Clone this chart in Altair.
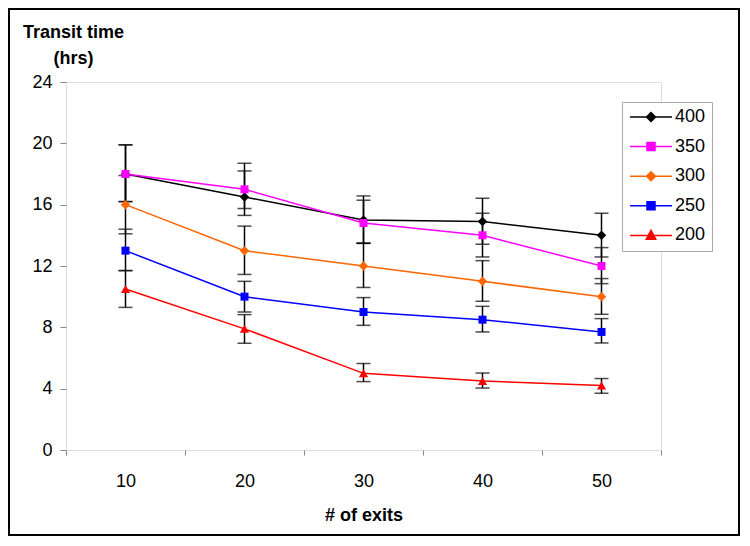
import altair as alt
import pandas as pd

exits = [10, 20, 30, 40, 50]
series = ["400", "350", "300", "250", "200"]
colors = ["#000000", "#FF00FF", "#FF6600", "#0000FF", "#FF0000"]

values = {
    "400": [18.0, 16.5, 15.0, 14.9, 14.0],
    "350": [18.0, 17.0, 14.8, 14.0, 12.0],
    "300": [16.0, 13.0, 12.0, 11.0, 10.0],
    "250": [13.0, 10.0, 9.0, 8.5, 7.7],
    "200": [10.5, 7.9, 5.0, 4.5, 4.2],
}
err_low = {
    "400": [16.2, 15.3, 13.48, 13.42, 12.59],
    "350": [16.2, 15.75, 13.48, 12.59, 10.85],
    "300": [14.1, 11.45, 10.6, 9.7, 8.85],
    "250": [11.7, 9.0, 8.13, 7.7, 6.98],
    "200": [9.3, 6.96, 4.46, 4.04, 3.7],
}
err_high = {
    "400": [19.9, 18.7, 16.57, 16.42, 15.44],
    "350": [19.9, 18.2, 16.29, 15.44, 13.2],
    "300": [17.9, 14.6, 13.48, 12.35, 11.18],
    "250": [14.4, 11.0, 9.94, 9.37, 8.57],
    "200": [11.7, 8.83, 5.64, 5.02, 4.66],
}

rows = []
for s in series:
    for i, e in enumerate(exits):
        rows.append({"series": s, "exits": e, "value": values[s][i],
                     "lo": err_low[s][i], "hi": err_high[s][i]})
df = pd.DataFrame(rows)

FONT = "Liberation Sans"

# legend symbols: a line with the series marker on it
P_DIAMOND = "M-4.2,0H4.2M0,-0.9L0.9,0L0,0.9L-0.9,0Z"
P_SQUARE = "M-4.2,0H4.2M-0.8,-0.8H0.8V0.8H-0.8Z"
P_TRI = "M-4.2,0H4.2M0,-1L0.95,0.75H-0.95Z"
legend_shapes = [P_DIAMOND, P_SQUARE, P_DIAMOND, P_SQUARE, P_TRI]

legend = alt.Legend(
    title=None,
    orient="none",
    legendX=556,
    legendY=20,
    strokeColor="#aaaaaa",
    fillColor="white",
    padding=6,
    symbolSize=100,
    symbolOffset=14,
    symbolStrokeWidth=1.5,
    symbolOpacity=1,
    labelOffset=15,
    labelFontSize=18,
    labelFont=FONT,
    labelColor="black",
    rowPadding=11.6,
)

x_enc = alt.X(
    "exits:O",
    scale=alt.Scale(type="band", paddingInner=0, paddingOuter=0),
    axis=alt.Axis(
        title="# of exits",
        titleFontSize=18,
        titleFontWeight="bold",
        titleFont=FONT,
        titleColor="black",
        titlePadding=16,
        labelFontSize=18,
        labelFont=FONT,
        labelColor="black",
        labelAngle=0,
        labelPadding=17,
        tickBand="extent",
        tickColor="#888888",
        tickSize=5,
        domain=False,
        grid=False,
    ),
)
y_scale = alt.Scale(domain=[0, 24], nice=False)
y_enc = alt.Y(
    "value:Q",
    scale=y_scale,
    axis=alt.Axis(
        title=["Transit time", "(hrs)"],
        titleAngle=0,
        titleAlign="center",
        titleBaseline="alphabetic",
        titleX=7,
        titleY=-45,
        titleLineHeight=26,
        titleFontSize=18,
        titleFontWeight="bold",
        titleFont=FONT,
        titleColor="black",
        values=[0, 4, 8, 12, 16, 20, 24],
        labelFontSize=18,
        labelFont=FONT,
        labelColor="black",
        labelPadding=8,
        tickColor="#888888",
        tickSize=6,
        domain=False,
        grid=False,
    ),
)

color_scale = alt.Scale(domain=series, range=colors)

base = alt.Chart(df)

border = alt.Chart(pd.DataFrame({"k": [0]})).mark_rect(
    fill=None, stroke="black", strokeWidth=2
).encode(
    x=alt.value(-57), x2=alt.value(673), y=alt.value(-73), y2=alt.value(453)
)

err_rule = base.mark_rule(color="black", strokeWidth=1.5).encode(
    x=x_enc, y=alt.Y("lo:Q", scale=y_scale), y2="hi:Q"
)
err_lo = base.mark_tick(color="black", thickness=1.5, size=14).encode(
    x=x_enc, y=alt.Y("lo:Q", scale=y_scale)
)
err_hi = base.mark_tick(color="black", thickness=1.5, size=14).encode(
    x=x_enc, y=alt.Y("hi:Q", scale=y_scale)
)
lines = base.mark_line(strokeWidth=1.5).encode(
    x=x_enc, y=y_enc,
    color=alt.Color("series:N", scale=color_scale, legend=None),
    detail="series:N",
)


def marker_layer(names, shape, size):
    return base.transform_filter(
        alt.FieldOneOfPredicate(field="series", oneOf=names)
    ).mark_point(filled=True, size=size, opacity=1, shape=shape).encode(
        x=x_enc, y=y_enc,
        color=alt.Color("series:N", scale=color_scale, legend=None),
    )


diamonds = marker_layer(["400", "300"], "diamond", 90)
squares = marker_layer(["350", "250"], "square", 64)
triangles = marker_layer(["200"], "triangle-up", 85)

# layer that only carries the legend (its own marks have zero size)
legend_layer = base.mark_point(filled=True, strokeWidth=0, size=0).encode(
    x=x_enc, y=y_enc,
    fill=alt.Fill("series:N", scale=color_scale, legend=legend),
    stroke=alt.Stroke("series:N", scale=color_scale, legend=legend),
    shape=alt.Shape("series:N", scale=alt.Scale(domain=series, range=legend_shapes),
                    legend=legend),
)

chart = alt.layer(
    border, legend_layer, err_rule, err_lo, err_hi, lines, diamonds, squares, triangles
).properties(
    width=595,
    height=368,
    autosize=alt.AutoSizeParams(type="none"),
    padding={"left": 58, "top": 74, "right": 81, "bottom": 86},
    background="white",
).configure_view(
    stroke="#888888", strokeWidth=1.2
).configure(font=FONT)

chart.save("out.html", embed_options={"renderer": "svg", "actions": False})
